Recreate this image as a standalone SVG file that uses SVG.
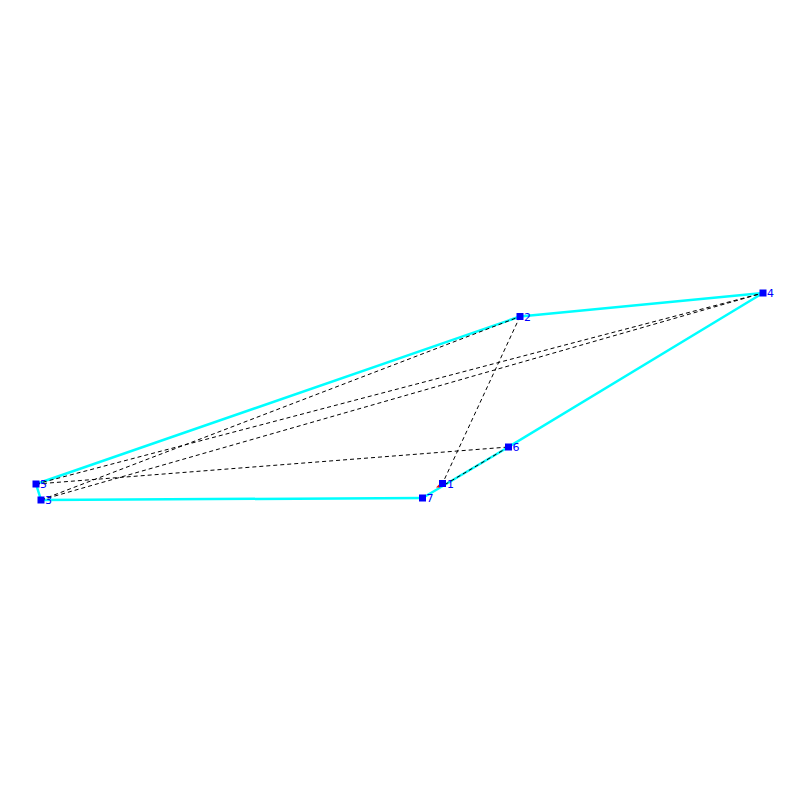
<svg xmlns="http://www.w3.org/2000/svg" width="800" height="800" viewBox="0 0 800 800">
<style>
.hull{stroke:#00ffff;stroke-width:2.5;fill:none;stroke-linecap:round}
.dash{stroke:#000;stroke-width:1;stroke-dasharray:4,3;fill:none}
.nd rect{fill:#0000ff}
.nd text{fill:#0000ff;font-family:"DejaVu Sans",sans-serif;font-size:11px}
</style>
<rect width="800" height="800" fill="#fff"/>
<g id="connectors">
<line class="hull" x1="36" y1="484" x2="520" y2="316.5" stroke-width="3"/>
<line class="hull" x1="520" y1="316.5" x2="763" y2="293"/>
<line class="hull" x1="763" y1="293" x2="508.5" y2="447"/>
<line class="hull" x1="508.5" y1="447" x2="422.5" y2="498"/>
<line class="hull" x1="422.5" y1="498" x2="41" y2="500"/>
<line class="hull" x1="41" y1="500" x2="36" y2="484"/>
<line class="dash" x1="41" y1="500" x2="520" y2="316.5"/>
<line class="dash" x1="36" y1="484" x2="763" y2="293"/>
<line class="dash" x1="41" y1="500" x2="763" y2="293"/>
<line class="dash" x1="36" y1="484" x2="508.5" y2="447"/>
<line class="dash" x1="520" y1="316.5" x2="442.5" y2="483.5"/>
<line class="dash" x1="508.5" y1="447" x2="442.5" y2="486"/>
<polygon points="436,487.5 440.5,483 440.5,487.5" fill="#ff0000"/>
</g>
<g id="n1" class="nd"><rect x="439" y="480" width="7" height="7"/><text x="447" y="488">1</text></g>
<g id="n2" class="nd"><rect x="516.5" y="313" width="7" height="7"/><text x="524" y="321">2</text></g>
<g id="n3" class="nd"><rect x="37.5" y="496.5" width="7" height="7"/><text x="45" y="504">3</text></g>
<g id="n4" class="nd"><rect x="759.5" y="289.5" width="7" height="7"/><text x="767" y="297">4</text></g>
<g id="n5" class="nd"><rect x="32.5" y="480.5" width="7" height="7"/><text x="40" y="488">5</text></g>
<g id="n6" class="nd"><rect x="505" y="443.5" width="7" height="7"/><text x="512.5" y="451">6</text></g>
<g id="n7" class="nd"><rect x="419" y="494.5" width="7" height="7"/><text x="426.5" y="502">7</text></g>
</svg>
